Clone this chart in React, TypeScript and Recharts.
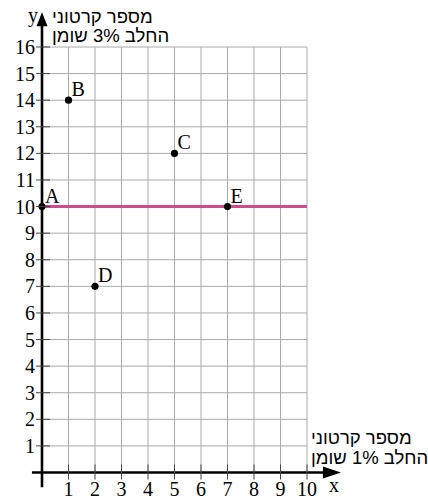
import React from 'react';
import {
  ScatterChart, Scatter, XAxis, YAxis, CartesianGrid, ReferenceLine, ReferenceDot,
} from 'recharts';

const pointNames = ['A', 'B', 'C', 'D', 'E'];
const pointX = [0, 1, 5, 2, 7];
const pointY = [10, 14, 12, 7, 10];
const xTicks = [1, 2, 3, 4, 5, 6, 7, 8, 9, 10];
const yTicks = [1, 2, 3, 4, 5, 6, 7, 8, 9, 10, 11, 12, 13, 14, 15, 16];
const lineLevel = 10;
const yAxisTitle = ['מספר קרטוני', 'החלב 3% שומן'];
const xAxisTitle = ['מספר קרטוני', 'החלב 1% שומן'];

const points = pointNames.map((name, i) => ({ name, x: pointX[i], y: pointY[i] }));

const SERIF = '"Liberation Serif", "DejaVu Serif", serif';
const SANS = '"Liberation Sans", "DejaVu Sans", sans-serif';

const XTick = ({ x, y, payload }: any) => (
  <g>
    <line x1={x} x2={x} y1={y - 8} y2={y + 7} stroke="#444" strokeWidth={1} />
    <text x={x} y={y + 23} textAnchor="middle" fontFamily={SERIF} fontSize={20} fill="#000">
      {payload.value}
    </text>
  </g>
);

const YTick = ({ x, y, payload }: any) => (
  <g>
    <line x1={x - 6} x2={x + 8} y1={y} y2={y} stroke="#444" strokeWidth={1} />
    <text x={x - 7} y={y + 7} textAnchor="end" fontFamily={SERIF} fontSize={20} fill="#000">
      {payload.value}
    </text>
  </g>
);

const Dot = ({ cx, cy, payload }: any) => (
  <g>
    <circle cx={cx} cy={cy} r={3.6} fill="#000" />
    <text x={cx + 3} y={cy - 4} fontFamily={SERIF} fontSize={20} fill="#000">{payload.name}</text>
  </g>
);

const UpArrow = ({ cx, cy }: any) => (
  <g>
    <polygon points={`${cx},${cy} ${cx - 5.5},${cy + 14} ${cx + 5.5},${cy + 14}`} fill="#000" />
    <text x={cx - 9} y={cy + 10} textAnchor="middle" fontFamily={SERIF} fontSize={20} fill="#000">y</text>
  </g>
);

const RightArrow = ({ cx, cy }: any) => (
  <g>
    <polygon points={`${cx},${cy} ${cx - 18},${cy - 6} ${cx - 18},${cy + 6}`} fill="#000" />
    <text x={cx - 7} y={cy + 19} textAnchor="middle" fontFamily={SERIF} fontSize={20} fill="#000">x</text>
  </g>
);

const Title = ({ lines, left, top }: { lines: string[]; left: number; top: number }) => (
  <div
    style={{
      position: 'absolute', left, top, fontFamily: SANS, fontSize: 18.5, lineHeight: '19.5px',
      whiteSpace: 'nowrap', color: '#000', textAlign: 'left',
    }}
  >
    {lines.map((l) => <div key={l}>{l}</div>)}
  </div>
);

export default function App() {
  return (
    <div style={{ position: 'absolute', left: 0, top: 0, width: 428, height: 499, background: '#fff', overflow: 'hidden' }}>
      <ScatterChart width={428} height={499} margin={{ top: 47, left: 41, right: 121, bottom: 25.5 }}>
        <CartesianGrid stroke="#aaaaaa" strokeWidth={1} />
        <XAxis
          type="number" dataKey="x" domain={[0, 10]} ticks={xTicks} interval={0}
          height={1} axisLine={false} tickLine={false} tickSize={0} tickMargin={0}
          tick={<XTick />}
        />
        <YAxis
          type="number" dataKey="y" domain={[0, 16]} ticks={yTicks} interval={0}
          width={1} axisLine={false} tickLine={false} tickSize={0} tickMargin={0}
          tick={<YTick />}
        />
        <ReferenceLine y={lineLevel} stroke="#cf4b8f" strokeWidth={3} />
        <ReferenceLine
          segment={[{ x: 0, y: -0.55 }, { x: 0, y: 16.9 }]}
          stroke="#000" strokeWidth={2.6} ifOverflow="visible"
        />
        <ReferenceLine
          segment={[{ x: -0.38, y: 0 }, { x: 10.7, y: 0 }]}
          stroke="#000" strokeWidth={2.6} ifOverflow="visible"
        />
        <ReferenceDot x={0} y={17.31} shape={(p: any) => <UpArrow {...p} />} ifOverflow="visible" />
        <ReferenceDot x={11.28} y={0} shape={(p: any) => <RightArrow {...p} />} ifOverflow="visible" />
        <Scatter data={points} shape={<Dot />} isAnimationActive={false} />
      </ScatterChart>
      <Title lines={yAxisTitle} left={52} top={6.5} />
      <Title lines={xAxisTitle} left={311} top={428} />
    </div>
  );
}
